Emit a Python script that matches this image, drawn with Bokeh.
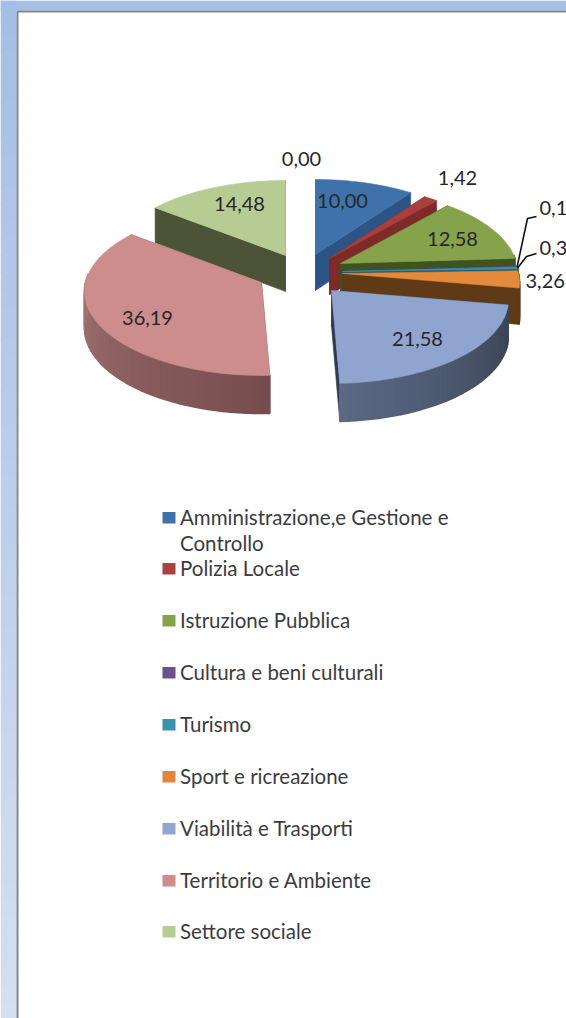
import math
from bokeh.plotting import figure
from bokeh.embed import file_html
from bokeh.resources import INLINE
from bokeh.core.properties import value

# ---- data ----
categories = ["Amministrazione,e Gestione e\nControllo", "Polizia Locale", "Istruzione Pubblica",
              "Cultura e beni culturali", "Turismo", "Sport e ricreazione",
              "Viabilità e Trasporti", "Territorio e Ambiente", "Settore sociale"]
values = [10.00, 1.42, 12.58, 0.15, 0.34, 3.26, 21.58, 36.19, 14.48]
value_labels = ["10,00", "1,42", "12,58", "0,1", "0,3", "3,26", "21,58", "36,19", "14,48"]
zero_label = "0,00"

# ---- style ----
top_colors = ["#3f72ab", "#a83f3c", "#86a34c", "#6a5088", "#3a95ab", "#e58a3c", "#8fa5cf", "#cd8d8d", "#b6cc93"]
legend_colors = ["#3f72ad", "#aa4240", "#86a34b", "#6b528c", "#3a93aa", "#e0853a", "#8fa6d0", "#cf8c8c", "#b5cd93"]
radial_colors = ["#2c5484", "#7e2a28", "#3f5222", "#3f3050", "#1f5a6b", "#5e3a16", "#2f3a50", "#764d4e", "#4d5337"]
outer_near = [(0x2c,0x54,0x84), (0x7e,0x2a,0x28), (0x3f,0x52,0x22), (0x3f,0x30,0x50), (0x1f,0x5a,0x6b),
              (0x5e,0x3a,0x16), (0x5b,0x69,0x85), (0x76,0x4d,0x4e), (0x4d,0x53,0x37)]
outer_far = [(0x2c,0x54,0x84), (0x7e,0x2a,0x28), (0x3f,0x52,0x22), (0x3f,0x30,0x50), (0x1f,0x5a,0x6b),
             (0x5e,0x3a,0x16), (0x3a,0x43,0x54), (0xb2,0x80,0x80), (0x4d,0x53,0x37)]
apex_x = [315, 329, 340, 342, 342, 342, 331, 261, 285]
apex_y = [254, 258, 263, 271, 271, 273, 290, 282, 255]
label_x = [342, 457, 452, 539, 539, 525, 417, 147, 239]
label_y = [200, 177, 238, 207, 247, 280, 338, 317, 203]
label_align = ["center", "center", "center", "left", "left", "left", "center", "center", "center"]
paint_order = [0, 1, 2, 3, 4, 5, 8, 7, 6]
legend_rows = [516, 567, 619, 671, 723, 775, 827, 879, 930]
RX, A, B = 176.0, 83.0, 0.107
W, H = 566, 1018
FONT = value("Lato")


def project(phi):
    X, Y = math.sin(phi), -math.cos(phi)
    k = 1 - B * Y
    return RX * X / k, A * Y / k, 36 + 2 * Y


p = figure(width=W, height=H, x_range=(0, W), y_range=(H, 0), toolbar_location=None,
           output_backend="svg", min_border=0, outline_line_color=None,
           background_fill_color="#ffffff", border_fill_color="#ffffff",
           styles={"position": "absolute", "left": "0px", "top": "0px"})
p.xaxis.visible = False
p.yaxis.visible = False
p.grid.visible = False

# window background gradient and sheet border
N = 60
for i in range(N):
    t = i / (N - 1)
    c = "#%02x%02x%02x" % (int(166 + t * 47), int(190 + t * 34), int(230 + t * 11))
    p.quad(left=0, right=16, top=i * H / N, bottom=(i + 1) * H / N + 1, fill_color=c, line_color=None)
p.quad(left=0, right=W, top=0, bottom=10, fill_color="#a6bee6", line_color=None)
p.line([W, 17, 17], [11, 11, H], line_color="#7f8791", line_width=2)

# pie
total = sum(values)
starts, acc = [], 0.0
for v in values:
    starts.append(acc)
    acc += v
xs, ys, cols, widths = [], [], [], []


def add(px, py, c, w=0.6):
    xs.append(px)
    ys.append(py)
    cols.append(c)
    widths.append(w)


for i in paint_order:
    a0 = starts[i] / total * 2 * math.pi
    a1 = (starts[i] + values[i]) / total * 2 * math.pi
    n = max(4, int(values[i] * 1.6))
    phis = [a0 + (a1 - a0) * k / n for k in range(n + 1)]
    pts = [project(f) for f in phis]
    ax, ay = apex_x[i], apex_y[i]
    dc = 36
    # radial walls
    for q in (pts[0], pts[-1]):
        add([ax, ax + q[0], ax + q[0], ax], [ay, ay + q[1], ay + q[1] + q[2], ay + dc],
            radial_colors[i])
    # outer wall, strip by strip; the far half of the rim is out of sight
    for k in range(n):
        if math.cos(phis[k]) > 0.1 and math.cos(phis[k + 1]) > 0.1:
            continue
        q0, q1 = pts[k], pts[k + 1]
        t = k / max(1, n - 1)
        f = t if i == 7 else 1 - t
        c = tuple(int(outer_near[i][j] + (outer_far[i][j] - outer_near[i][j]) * f) for j in range(3))
        add([ax + q0[0], ax + q1[0], ax + q1[0], ax + q0[0]],
            [ay + q0[1], ay + q1[1], ay + q1[1] + q1[2], ay + q0[1] + q0[2]],
            "#%02x%02x%02x" % c, 1.6)
    # top surface
    add([ax] + [ax + q[0] for q in pts], [ay] + [ay + q[1] for q in pts], top_colors[i])
p.patches(xs, ys, fill_color=cols, line_color=cols, line_width=widths)

# leader lines for the two small slices
for i, (ex, ey, mx, my) in zip([3, 4], [(527, 218, 536, 216), (526, 256, 536, 253)]):
    mid = (starts[i] + values[i] / 2) / total * 2 * math.pi
    q = project(mid)
    p.line([apex_x[i] + q[0], ex, mx], [apex_y[i] + q[1], ey, my], line_color="#111111", line_width=1.6)

# value labels
for x, y, t, a in zip(label_x, label_y, value_labels, label_align):
    p.text(x=[x], y=[y], text=[t], text_font=FONT, text_font_size="20px",
           text_color="#26262a", text_align=a, text_baseline="middle")
p.text(x=[301], y=[158], text=[zero_label], text_font=FONT, text_font_size="20px",
       text_color="#26262a", text_align="center", text_baseline="middle")

# legend
for name, col, y in zip(categories, legend_colors, legend_rows):
    p.quad(left=162, right=175, top=y - 4.5, bottom=y + 7, fill_color=col, line_color=None)
    for j, part in enumerate(name.split("\n")):
        p.text(x=[179.5], y=[y + j * 26], text=[part], text_font=FONT, text_font_size="20.5px",
               text_color="#3c3c40", text_align="left", text_baseline="middle")

open("out.html", "w").write(file_html(p, INLINE))
